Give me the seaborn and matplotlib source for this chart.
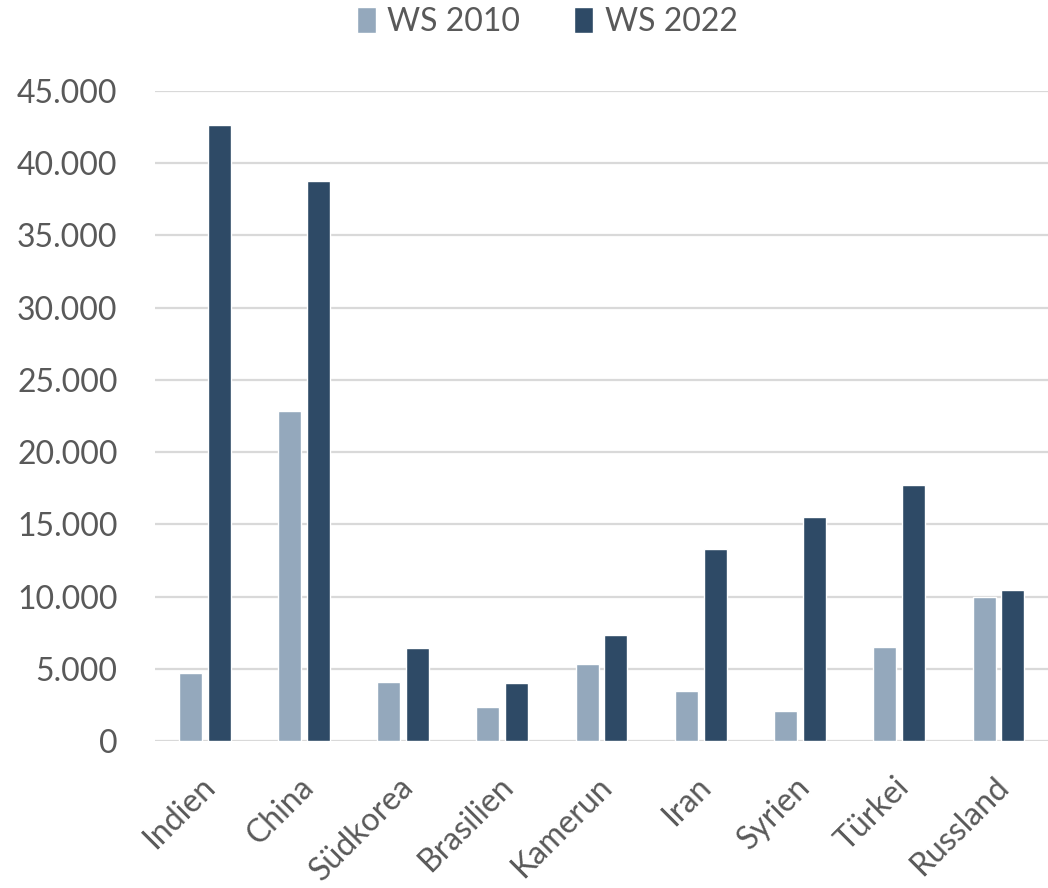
import pandas as pd
import matplotlib
import matplotlib.pyplot as plt
import matplotlib.transforms as mtransforms
from matplotlib.ticker import FuncFormatter
import seaborn as sns

# Data
countries = ["Indien", "China", "Südkorea", "Brasilien", "Kamerun",
             "Iran", "Syrien", "Türkei", "Russland"]
ws_2010 = [4720, 22830, 4100, 2340, 5350, 3430, 2080, 6530, 10000]
ws_2022 = [42640, 38760, 6420, 4030, 7320, 13290, 15510, 17740, 10440]
series = ["WS 2010", "WS 2022"]
colors = ["#94A8BC", "#2E4A66"]

df = pd.DataFrame({"Land": countries * 2,
                   "Semester": [series[0]] * 9 + [series[1]] * 9,
                   "Wert": ws_2010 + ws_2022})

sns.set_theme(style="white")
plt.rcParams["font.family"] = ["Lato", "DejaVu Sans"]
text_color = "#595959"

fig = plt.figure(figsize=(10.48, 8.88), dpi=100)
ax = fig.add_axes([0.148, 0.1655, 0.852, 0.732])

sns.barplot(data=df, x="Land", y="Wert", hue="Semester", palette=colors,
            width=0.58, gap=0.2, ax=ax, saturation=1)

ax.set_ylim(0, 45000)
ax.set_yticks(range(0, 45001, 5000))
ax.yaxis.set_major_formatter(FuncFormatter(lambda v, p: f"{int(v):,}".replace(",", ".")))
ax.grid(axis="y", color="#D9D9D9", linewidth=1.6)
ax.set_axisbelow(True)
for s in ax.spines.values():
    s.set_visible(False)
ax.set_xlabel("")
ax.set_ylabel("")
ax.tick_params(axis="y", labelsize=23, labelcolor=text_color, pad=27, length=0)
ax.tick_params(axis="x", labelsize=23, labelcolor=text_color, pad=22, length=0)

# rotated category labels
offset = mtransforms.ScaledTranslation(-0.05, 0, fig.dpi_scale_trans)
for lbl in ax.get_xticklabels():
    lbl.set_rotation(45)
    lbl.set_ha("right")
    lbl.set_rotation_mode("anchor")
    lbl.set_transform(lbl.get_transform() + offset)

ax.get_legend().remove()
handles, labels = ax.get_legend_handles_labels()
fig.legend(handles, labels, loc="upper center", bbox_to_anchor=(0.522, 1.025),
           ncol=2, frameon=False, fontsize=23,
           handlelength=0.6, handleheight=0.9, handletextpad=0.35, columnspacing=1.7,
           labelcolor=text_color)

plt.savefig("out.png", dpi=100)
